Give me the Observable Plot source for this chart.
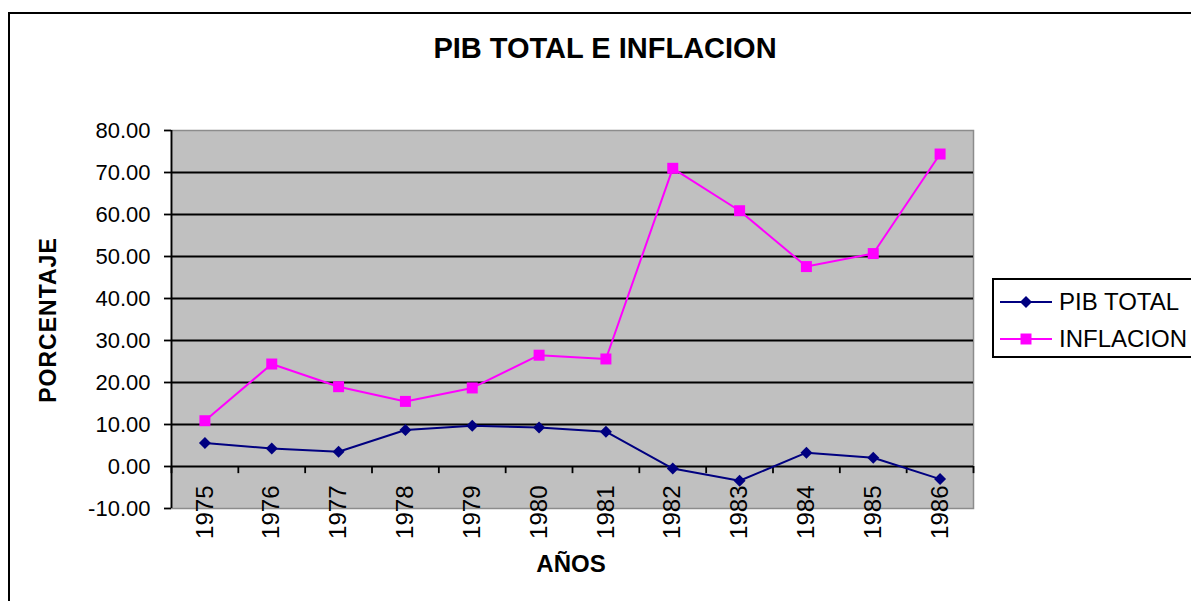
<!DOCTYPE html>
<html>
<head>
<meta charset="utf-8">
<script src="https://cdn.jsdelivr.net/npm/d3@7"></script>
<script src="https://cdn.jsdelivr.net/npm/@observablehq/plot@0.6"></script>
<style>
  html, body { margin: 0; padding: 0; background: #fff; overflow: hidden; width: 1191px; height: 601px; }
  body { position: relative; font-family: "Liberation Sans", Arial, sans-serif; color: #000; }
  #frame { position: absolute; left: 8px; top: 12px; width: 1200px; height: 600px; border: 2px solid #000; box-sizing: border-box; }
  #chart { position: absolute; left: 0; top: 0; }
  #title { position: absolute; left: 0; width: 1210px; top: 34px; text-align: center; font-size: 29px; font-weight: bold; line-height: 1; }
  #xlabel { position: absolute; left: 471px; width: 200px; top: 552px; text-align: center; font-size: 24px; font-weight: bold; line-height: 1; }
  #ylabel { position: absolute; left: 48px; top: 320px; transform: translate(-50%, -50%) rotate(-90deg); font-size: 23px; font-weight: bold; line-height: 1; white-space: nowrap; letter-spacing: 1px; }
  #legend { position: absolute; left: 992px; top: 278px; width: 230px; height: 80px; border: 2px solid #000; box-sizing: border-box; background: #fff; }
  .lrow { position: absolute; left: 6px; height: 30px; display: flex; align-items: center; font-size: 24px; line-height: 1; white-space: nowrap; }
  .lrow svg { margin-right: 7px; }
</style>
</head>
<body>
<div id="frame"></div>
<div id="chart"></div>
<div id="title"></div>
<div id="xlabel"></div>
<div id="ylabel"></div>
<div id="legend"></div>
<script>
const years = [1975, 1976, 1977, 1978, 1979, 1980, 1981, 1982, 1983, 1984, 1985, 1986];
const pibTotal = [5.6, 4.3, 3.5, 8.7, 9.7, 9.3, 8.3, -0.5, -3.4, 3.3, 2.1, -3.0];
const inflacion = [10.9, 24.4, 19.0, 15.5, 18.7, 26.5, 25.6, 71.0, 60.9, 47.6, 50.7, 74.4];
const yTicks = [-10, 0, 10, 20, 30, 40, 50, 60, 70, 80];
const seriesNames = ["PIB TOTAL", "INFLACION"];
const seriesColors = ["#000080", "#ff00ff"];
const seriesSymbols = ["diamond2", "square"];
const titleText = "PIB TOTAL E INFLACION";
const xTitle = "AÑOS";
const yTitle = "PORCENTAJE";

const pibRows = years.map((yr, i) => ({year: yr, value: pibTotal[i]}));
const infRows = years.map((yr, i) => ({year: yr, value: inflacion[i]}));
const boundaries = years.map(y => y - 0.5).concat([years[years.length - 1] + 0.5]);

const chart = Plot.plot({
  width: 1191,
  height: 601,
  marginLeft: 171,
  marginRight: 218,
  marginTop: 130,
  marginBottom: 93,
  style: {background: "transparent", fontFamily: "'Liberation Sans', Arial, sans-serif", color: "#000"},
  x: {domain: [boundaries[0], boundaries[boundaries.length - 1]], axis: null},
  y: {domain: [yTicks[0], yTicks[yTicks.length - 1]], axis: null},
  marks: [
    Plot.frame({fill: "#c0c0c0", stroke: "#8c8c8c", strokeWidth: 1.5}),
    Plot.ruleY(yTicks.filter(d => d > yTicks[0] && d < yTicks[yTicks.length - 1]), {stroke: "#000", strokeWidth: 1.8}),
    Plot.ruleX([boundaries[0]], {stroke: "#000", strokeWidth: 1.8}),
    Plot.ruleX(boundaries, {y1: 0, y2: -1.7, stroke: "#000", strokeWidth: 1.8}),
    Plot.axisY({ticks: yTicks, tickFormat: d => d.toFixed(2), tickSize: 7, tickPadding: 14, fontSize: 22, label: null, stroke: "#000", strokeWidth: 1.8}),
    Plot.text(years, {x: d => d, y: 0, text: d => String(d), rotate: -90, textAnchor: "end", lineAnchor: "middle", dy: 19, fontSize: 24, fill: "#000"}),
    Plot.line(pibRows, {x: "year", y: "value", stroke: seriesColors[0], strokeWidth: 2}),
    Plot.line(infRows, {x: "year", y: "value", stroke: seriesColors[1], strokeWidth: 2}),
    Plot.dot(pibRows, {x: "year", y: "value", fill: seriesColors[0], symbol: seriesSymbols[0], r: 5.4, stroke: "none"}),
    Plot.dot(infRows, {x: "year", y: "value", fill: seriesColors[1], symbol: seriesSymbols[1], r: 6.2, stroke: "none"})
  ]
});
document.getElementById("chart").appendChild(chart);

document.getElementById("title").textContent = titleText;
document.getElementById("xlabel").textContent = xTitle;
document.getElementById("ylabel").textContent = yTitle;

const legend = document.getElementById("legend");
seriesNames.forEach((name, i) => {
  const row = document.createElement("div");
  row.className = "lrow";
  row.style.top = (i === 0 ? 7 : 44) + "px";
  const svg = d3.create("svg").attr("width", 52).attr("height", 20);
  svg.append("line").attr("x1", 0).attr("x2", 52).attr("y1", 10).attr("y2", 10).attr("stroke", seriesColors[i]).attr("stroke-width", 2);
  const sym = i === 0 ? d3.symbol(d3.symbolDiamond2, Math.PI * 5.4 * 5.4) : d3.symbol(d3.symbolSquare, Math.PI * 6.2 * 6.2);
  svg.append("path").attr("d", sym()).attr("transform", "translate(26,10)").attr("fill", seriesColors[i]);
  row.appendChild(svg.node());
  const span = document.createElement("span");
  span.textContent = name;
  row.appendChild(span);
  legend.appendChild(row);
});
</script>
</body>
</html>
